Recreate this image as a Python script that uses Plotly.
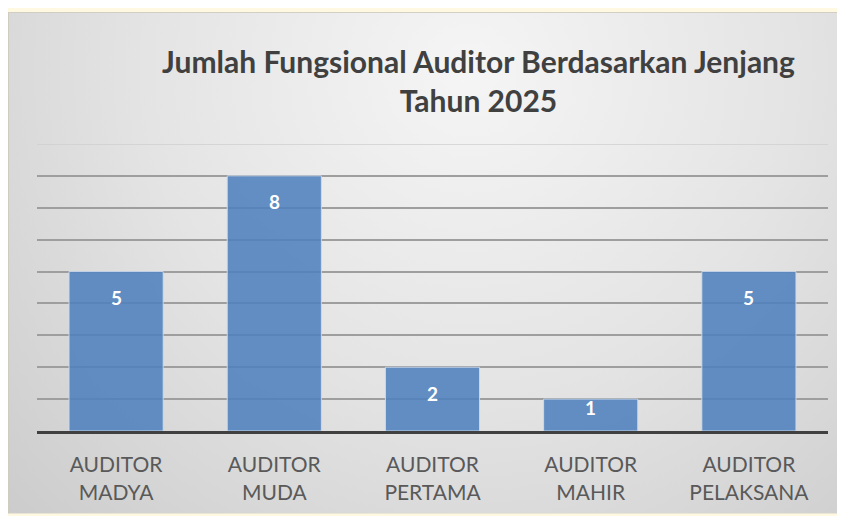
import base64
import plotly.graph_objects as go

categories = ["AUDITOR MADYA", "AUDITOR MUDA", "AUDITOR PERTAMA", "AUDITOR MAHIR", "AUDITOR PELAKSANA"]
values = [5, 8, 2, 1, 5]
tick_labels = [c.replace(" ", "<br>") for c in categories]
title_text = "Jumlah Fungsional Auditor Berdasarkan Jenjang<br>Tahun 2025"
y_max = 9

# page has an 8px body margin; figure sized to fit the 845x516 window
OFF = 8
W, H = 845 - OFF, 516 - OFF
L, R, T, B = 29, 17, 136, 83
pw, ph = W - L - R, H - T - B

def px_to_paper_x(px):
    return (px - L) / pw

def px_to_paper_y(py):
    return (H - B - py) / ph

# background panel with radial gradient (SVG data URI)
panel_x0, panel_y0 = 0, 3
panel_w, panel_h = W - panel_x0, H - panel_y0
svg = f'''<svg xmlns="http://www.w3.org/2000/svg" width="{panel_w}" height="{panel_h}">
<defs><radialGradient id="g" gradientUnits="userSpaceOnUse" cx="{462-panel_x0}" cy="{62-panel_y0}" r="720">
<stop offset="0" stop-color="#F5F5F5"/><stop offset="0.45" stop-color="#E4E4E4"/><stop offset="1" stop-color="#C6C6C6"/>
</radialGradient></defs>
<rect x="0" y="0" width="{panel_w}" height="{panel_h}" fill="url(#g)"/>
<rect x="0.5" y="0.5" width="{panel_w}" height="{panel_h}" fill="none" stroke="#D0CCC0" stroke-width="1"/>
</svg>'''
src = "data:image/svg+xml;base64," + base64.b64encode(svg.encode()).decode()

fig = go.Figure()
fig.add_trace(go.Bar(
    x=categories, y=values,
    marker=dict(color="rgba(79,129,189,0.88)", line=dict(color="rgba(205,220,240,0.9)", width=1)),
    hoverinfo="x+y",
))

annotations = []
for c, v in zip(categories, values):
    shift = -26 if v >= 2 else -8
    annotations.append(dict(x=c, y=v, xref="x", yref="y", text=f"<b>{v}</b>", showarrow=False,
                            yanchor="middle", yshift=shift,
                            font=dict(family="Lato", size=19, color="white")))
annotations.append(dict(x=px_to_paper_x(470), y=px_to_paper_y(72), xref="paper", yref="paper",
                        text=f"<b>{title_text}</b>", showarrow=False, xanchor="center", yanchor="middle",
                        font=dict(family="Lato", size=30, color="#404040")))

fig.update_layout(
    width=W, height=H,
    margin=dict(l=L, r=R, t=T, b=B, pad=0),
    paper_bgcolor="#FFF9E1",
    plot_bgcolor="rgba(0,0,0,0)",
    bargap=0.405,
    showlegend=False,
    annotations=annotations,
    shapes=[dict(type="line", xref="paper", yref="y", x0=0, x1=1, y0=y_max, y1=y_max,
                 line=dict(color="#CFCFCF", width=1.5), layer="below")],
    images=[dict(source=src, xref="paper", yref="paper",
                 x=px_to_paper_x(panel_x0), y=px_to_paper_y(panel_y0),
                 sizex=panel_w / pw, sizey=panel_h / ph,
                 xanchor="left", yanchor="top", sizing="stretch", layer="below")],
    xaxis=dict(
        tickmode="array", tickvals=categories, ticktext=tick_labels,
        showline=True, linecolor="#404040", linewidth=3,
        ticks="outside", ticklen=13, tickcolor="rgba(0,0,0,0)",
        tickfont=dict(family="Lato", size=21, color="#595959"),
        showgrid=False, fixedrange=True,
    ),
    yaxis=dict(
        range=[0, y_max], dtick=1, showticklabels=False,
        showgrid=True, gridcolor="#9E9E9E", gridwidth=1.5,
        zeroline=False, fixedrange=True,
    ),
)

fig.write_html("out.html")
